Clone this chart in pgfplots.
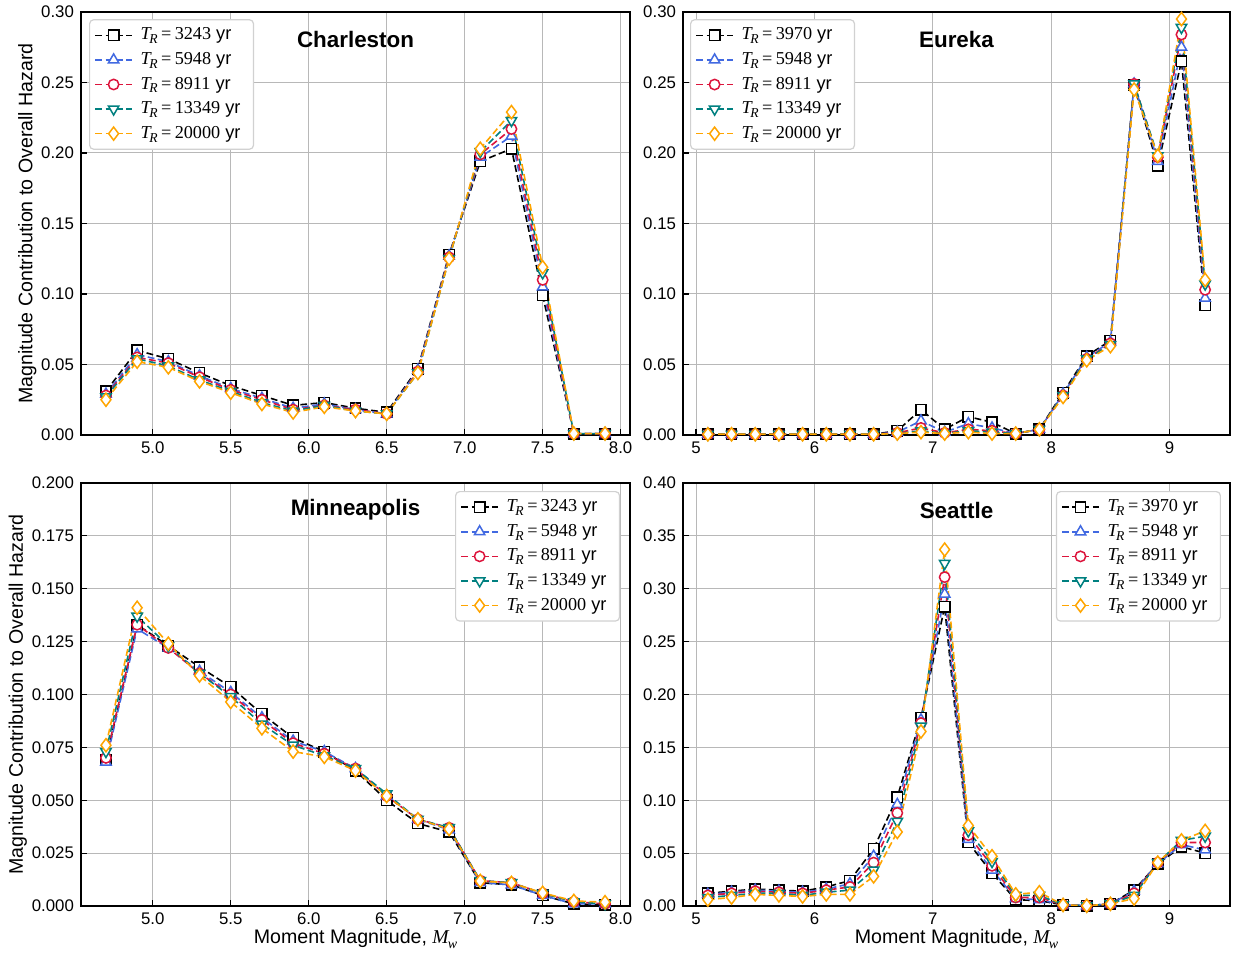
\documentclass[border=0pt]{standalone}
\usepackage{fontspec}
\setmainfont{Liberation Sans}
\newfontfamily\tms{Liberation Serif}
\usepackage{pgfplots}
\pgfplotsset{compat=1.18}
\usepackage{pgfplotstable}

\definecolor{cA}{HTML}{000000}
\definecolor{cB}{HTML}{4169E1}
\definecolor{cC}{HTML}{DC143C}
\definecolor{cD}{HTML}{008080}
\definecolor{cE}{HTML}{FFA500}

\newcommand{\TR}[1]{{\tms\itshape T}\kern-0.08em\raisebox{-0.4ex}{\tms\itshape\fontsize{6.8}{7}\selectfont R}\kern0.2em{\tms =\kern0.18em#1}\space yr}
\newcommand{\Mw}{{\tms\itshape M}\kern-0.05em\raisebox{-0.4ex}{\tms\itshape\fontsize{7}{7}\selectfont w}}

% Charleston
\pgfplotstableread{
x    a      b      c      d      e
4.7  0.031  0.029  0.028  0.027  0.025
4.9  0.060  0.057  0.055  0.054  0.052
5.1  0.054  0.052  0.051  0.049  0.048
5.3  0.044  0.042  0.041  0.039  0.038
5.5  0.035  0.033  0.032  0.031  0.030
5.7  0.028  0.026  0.025  0.023  0.022
5.9  0.021  0.019  0.018  0.017  0.016
6.1  0.023  0.022  0.021  0.021  0.020
6.3  0.019  0.018  0.018  0.017  0.017
6.5  0.016  0.015  0.015  0.015  0.015
6.7  0.047  0.046  0.045  0.044  0.044
6.9  0.128  0.127  0.126  0.125  0.125
7.1  0.194  0.197  0.199  0.201  0.203
7.3  0.203  0.212  0.217  0.223  0.229
7.5  0.099  0.105  0.110  0.115  0.119
7.7  0.001  0.001  0.001  0.001  0.001
7.9  0.001  0.001  0.001  0.001  0.001
}\charleston

% Eureka
\pgfplotstableread{
x    a      b      c      d      e
5.1  0.0005 0.0005 0.0005 0.0005 0.0005
5.3  0.0005 0.0005 0.0005 0.0005 0.0005
5.5  0.0005 0.0005 0.0005 0.0005 0.0005
5.7  0.0005 0.0005 0.0005 0.0005 0.0005
5.9  0.0005 0.0005 0.0005 0.0005 0.0005
6.1  0.0005 0.0005 0.0005 0.0005 0.0005
6.3  0.0005 0.0005 0.0005 0.0005 0.0005
6.5  0.0005 0.0005 0.0005 0.0005 0.0005
6.7  0.003  0.002  0.0015 0.001  0.001
6.9  0.018  0.010  0.005  0.003  0.002
7.1  0.004  0.002  0.0015 0.001  0.001
7.3  0.013  0.008  0.004  0.003  0.002
7.5  0.009  0.005  0.003  0.002  0.001
7.7  0.001  0.001  0.001  0.001  0.001
7.9  0.004  0.004  0.004  0.004  0.004
8.1  0.030  0.029  0.028  0.028  0.027
8.3  0.056  0.055  0.054  0.054  0.053
8.5  0.067  0.066  0.065  0.064  0.063
8.7  0.248  0.249  0.249  0.249  0.245
8.9  0.191  0.194  0.197  0.198  0.198
9.1  0.265  0.275  0.284  0.289  0.295
9.3  0.092  0.097  0.103  0.107  0.110
}\eureka

% Minneapolis
\pgfplotstableread{
x    a      b      c      d      e
4.7  0.069  0.068  0.070  0.073  0.076
4.9  0.133  0.131  0.133  0.137  0.141
5.1  0.123  0.122  0.122  0.123  0.124
5.3  0.113  0.111  0.110  0.110  0.109
5.5  0.1036 0.101  0.100  0.099  0.0965
5.7  0.0908 0.089  0.088  0.086  0.084
5.9  0.0795 0.078  0.077  0.076  0.073
6.1  0.073  0.073  0.072  0.071  0.0705
6.3  0.064  0.065  0.065  0.065  0.064
6.5  0.050  0.052  0.052  0.053  0.052
6.7  0.039  0.041  0.041  0.041  0.041
6.9  0.035  0.036  0.037  0.037  0.0364
7.1  0.011  0.011  0.012  0.012  0.0118
7.3  0.010  0.010  0.011  0.011  0.0109
7.5  0.005  0.005  0.006  0.006  0.0062
7.7  0.001  0.001  0.002  0.002  0.0024
7.9  0.0005 0.001  0.001  0.001  0.0018
}\minneapolis

% Seattle
\pgfplotstableread{
x    a      b      c      d      e
5.1  0.012  0.011  0.010  0.008  0.006
5.3  0.014  0.013  0.012  0.010  0.008
5.5  0.016  0.015  0.014  0.012  0.011
5.7  0.015  0.014  0.013  0.012  0.010
5.9  0.014  0.013  0.012  0.010  0.009
6.1  0.018  0.016  0.015  0.013  0.011
6.3  0.024  0.021  0.018  0.015  0.011
6.5  0.054  0.047  0.041  0.034  0.028
6.7  0.103  0.096  0.088  0.080  0.070
6.9  0.178  0.176  0.173  0.170  0.165
7.1  0.283  0.295  0.311  0.324  0.337
7.3  0.060  0.063  0.067  0.071  0.076
7.5  0.031  0.034  0.038  0.042  0.047
7.7  0.006  0.007  0.008  0.010  0.011
7.9  0.005  0.006  0.008  0.010  0.013
8.1  0.001  0.001  0.001  0.001  0.001
8.3  0.0002 0.0002 0.0002 0.0002 0.0002
8.5  0.002  0.002  0.002  0.002  0.002
8.7  0.015  0.014  0.012  0.010  0.007
8.9  0.040  0.040  0.041  0.041  0.041
9.1  0.056  0.058  0.060  0.062  0.062
9.3  0.050  0.053  0.060  0.066  0.071
}\seattle

\tikzset{ttl/.style={font=\bfseries\fontsize{11.2}{13}\selectfont}}

\pgfplotsset{
  panel/.style={
    scale only axis, anchor=south west,
    height=211.5pt,
    grid=major, major grid style={line width=0.5pt, color=black!28},
    tick align=inside, tick pos=left,
    major tick length=3pt,
    tick style={black, line width=0.6pt},
    axis line style={line width=0.8pt},
    ticklabel style={font=\fontsize{8.4}{10}\selectfont},
    /pgf/number format/assume math mode=true,
    label style={font=\fontsize{9.8}{11}\selectfont},
    ymin=0,
    legend cell align=left,
    legend style={draw=black!18, rounded corners=2pt, font=\fontsize{9.1}{10}\selectfont,
      inner xsep=2.5pt, inner ysep=2pt, row sep=0.75pt, line width=0.6pt,
      nodes={inner xsep=4pt}},
    legend image code/.code={
      \draw[mark repeat=2,mark phase=2,##1] plot coordinates {(0cm,0cm) (0.32cm,0cm) (0.64cm,0cm)};
    },
  },
  ser/.style={line width=0.8pt, dash pattern=on 3.4pt off 1.7pt},
  mk/.style={mark options={solid, fill=white, line width=0.75pt, #1}},
  sA/.style={ser, cA, mark=square*, mark size=2.6pt, mk={}},
  sB/.style={ser, cB, mark=triangle*, mark size=3pt, mk={}},
  sC/.style={ser, cC, mark=*, mark size=2.6pt, mk={}},
  sD/.style={ser, cD, mark=triangle*, mark size=3pt, mk={rotate=180}},
  sE/.style={ser, cE, mark=diamond*, mark size=3.3pt, mk={}},
  xleft/.style={width=274.5pt, xmin=4.54, xmax=8.06, xtick={5,5.5,6,6.5,7,7.5,8},
    xticklabel style={/pgf/number format/.cd, fixed, fixed zerofill, precision=1}},
  xright/.style={width=273.5pt, xmin=4.89, xmax=9.51, xtick={5,6,7,8,9},
    xticklabel style={/pgf/number format/.cd, fixed, precision=0}},
}

\newcommand{\allplots}[1]{%
  \addplot[sA] table[x=x,y=a] {#1};
  \addplot[sB] table[x=x,y=b] {#1};
  \addplot[sC] table[x=x,y=c] {#1};
  \addplot[sD] table[x=x,y=d] {#1};
  \addplot[sE] table[x=x,y=e] {#1};
}

\begin{document}
\begin{tikzpicture}
\useasboundingbox (0,0) rectangle (616.5pt,478pt);

% Charleston
\begin{axis}[panel, xleft, at={(40.5pt,260.5pt)},
  ymax=0.30, ytick={0,0.05,0.10,0.15,0.20,0.25,0.30},
  yticklabel style={/pgf/number format/.cd, fixed, fixed zerofill, precision=2},
  ylabel={Magnitude Contribution to Overall Hazard},
  ylabel style={at={(axis description cs:-0.098,0.5)}, anchor=center},
  legend style={at={(0.0146,0.983)}, anchor=north west}]
\allplots{\charleston}
\legend{\TR{3243},\TR{5948},\TR{8911},\TR{13349},\TR{20000}}
\node[ttl] at (rel axis cs:0.5,0.936) {Charleston};
\end{axis}

% Eureka
\begin{axis}[panel, xright, at={(341.5pt,260.5pt)},
  ymax=0.30, ytick={0,0.05,0.10,0.15,0.20,0.25,0.30},
  yticklabel style={/pgf/number format/.cd, fixed, fixed zerofill, precision=2},
  legend style={at={(0.0128,0.983)}, anchor=north west}]
\allplots{\eureka}
\legend{\TR{3970},\TR{5948},\TR{8911},\TR{13349},\TR{20000}}
\node[ttl] at (rel axis cs:0.5,0.936) {Eureka};
\end{axis}

% Minneapolis
\begin{axis}[panel, xleft, at={(40.5pt,25pt)},
  ymax=0.2, ytick={0,0.025,0.05,0.075,0.1,0.125,0.15,0.175,0.2},
  yticklabel style={/pgf/number format/.cd, fixed, fixed zerofill, precision=3},
  ylabel={Magnitude Contribution to Overall Hazard},
  ylabel style={at={(axis description cs:-0.115,0.5)}, anchor=center},
  xlabel={Moment Magnitude, \Mw},
  xlabel style={at={(axis description cs:0.5,-0.078)}, anchor=center},
  legend style={at={(0.982,0.981)}, anchor=north east}]
\allplots{\minneapolis}
\legend{\TR{3243},\TR{5948},\TR{8911},\TR{13349},\TR{20000}}
\node[ttl] at (rel axis cs:0.5,0.936) {Minneapolis};
\end{axis}

% Seattle
\begin{axis}[panel, xright, at={(341.5pt,25pt)},
  ymax=0.40, ytick={0,0.05,0.10,0.15,0.20,0.25,0.30,0.35,0.40},
  yticklabel style={/pgf/number format/.cd, fixed, fixed zerofill, precision=2},
  xlabel={Moment Magnitude, \Mw},
  xlabel style={at={(axis description cs:0.5,-0.078)}, anchor=center},
  legend style={at={(0.9835,0.981)}, anchor=north east}]
\allplots{\seattle}
\legend{\TR{3970},\TR{5948},\TR{8911},\TR{13349},\TR{20000}}
\node[ttl] at (rel axis cs:0.5,0.936) {Seattle};
\end{axis}
\end{tikzpicture}
\end{document}
